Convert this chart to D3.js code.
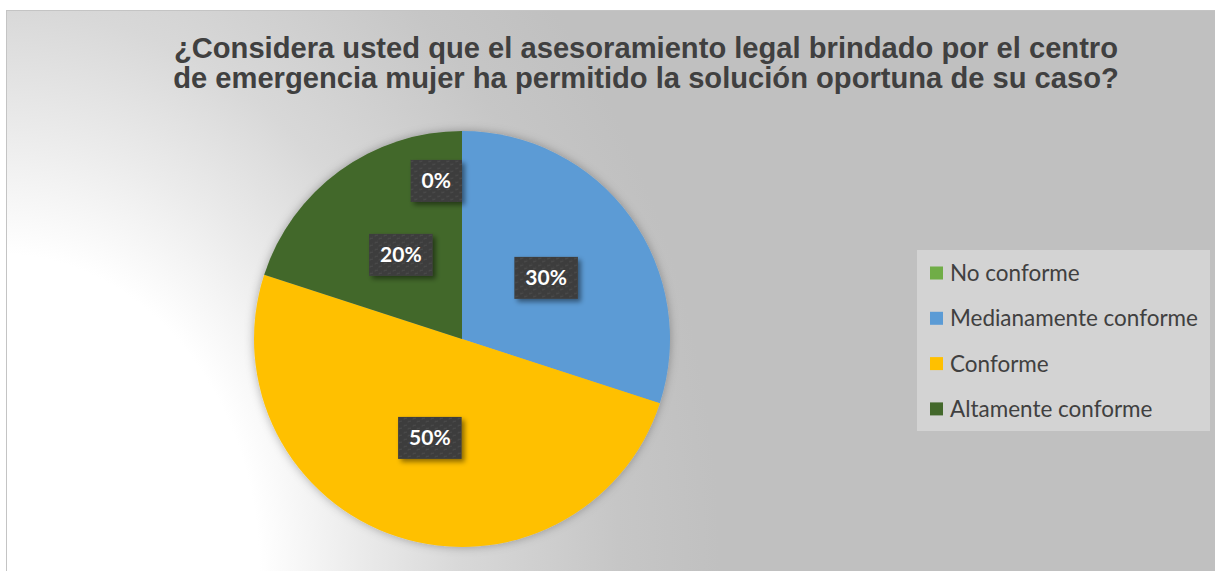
<!DOCTYPE html>
<html>
<head>
<meta charset="utf-8">
<script src="https://cdn.jsdelivr.net/npm/d3@7"></script>
<style>
  body { margin: 0; background: #fff; }
  svg { display: block; }
</style>
</head>
<body>
<script>
// chart data
const categories = ["No conforme", "Medianamente conforme", "Conforme", "Altamente conforme"];
const values = [0, 30, 50, 20];
const colors = ["#70AD47", "#5B9BD5", "#FFC000", "#43682B"];
const titleLines = [
  "¿Considera usted que el asesoramiento legal brindado por el centro",
  "de emergencia mujer ha permitido la solución oportuna de su caso?"
];

const width = 1215, height = 571;
const cx = 462, cy = 339, r = 208;

const svg = d3.select("body").append("svg")
    .attr("width", width)
    .attr("height", height);

const defs = svg.append("defs");

// background: white in the bottom-left corner, grey elsewhere
const bg = defs.append("radialGradient")
    .attr("id", "bg")
    .attr("gradientUnits", "userSpaceOnUse")
    .attr("cx", 0).attr("cy", 0).attr("r", 1)
    .attr("gradientTransform", "translate(0,571) scale(720,880)");
bg.append("stop").attr("offset", "0%").attr("stop-color", "#ffffff");
bg.append("stop").attr("offset", "36%").attr("stop-color", "#ffffff");
bg.append("stop").attr("offset", "50%").attr("stop-color", "#ebebeb");
bg.append("stop").attr("offset", "64%").attr("stop-color", "#d8d8d8");
bg.append("stop").attr("offset", "86%").attr("stop-color", "#c6c6c6");
bg.append("stop").attr("offset", "100%").attr("stop-color", "#c0c0c0");

// texture for the label boxes
const pat = defs.append("pattern")
    .attr("id", "tex")
    .attr("patternUnits", "userSpaceOnUse")
    .attr("width", 9).attr("height", 7);
pat.append("rect").attr("width", 9).attr("height", 7).attr("fill", "#3e3e3e");
pat.append("path").attr("d", "M1,2 L4,1 M5,5 L8,4")
    .attr("stroke", "#4c4c4c").attr("stroke-width", 1);

const shadow = defs.append("filter").attr("id", "shadow")
    .attr("x", "-20%").attr("y", "-20%").attr("width", "150%").attr("height", "160%");
shadow.append("feDropShadow")
    .attr("dx", 3).attr("dy", 3).attr("stdDeviation", 2.5)
    .attr("flood-color", "#000").attr("flood-opacity", 0.45);

const glow = defs.append("filter").attr("id", "glow")
    .attr("x", "-20%").attr("y", "-20%").attr("width", "140%").attr("height", "140%");
glow.append("feDropShadow")
    .attr("dx", 0).attr("dy", 0).attr("stdDeviation", 5)
    .attr("flood-color", "#000").attr("flood-opacity", 0.3);

svg.append("rect")
    .attr("x", 6.5).attr("y", 10.5)
    .attr("width", width).attr("height", height)
    .attr("fill", "url(#bg)")
    .attr("stroke", "#c4c4c4");

// title
const title = svg.append("text")
    .attr("text-anchor", "middle")
    .attr("font-family", "Liberation Sans, Arial, sans-serif")
    .attr("font-weight", "bold")
    .attr("font-size", 24)
    .attr("fill", "#404040");
title.selectAll("tspan")
  .data(titleLines)
  .join("tspan")
    .attr("x", 646)
    .attr("y", (d, i) => 58 + i * 30)
    .text(d => d);

// pie
const pie = d3.pie().sort(null).value(d => d)(values);
const arc = d3.arc().innerRadius(0).outerRadius(r);
const g = svg.append("g").attr("transform", `translate(${cx},${cy})`);

g.append("g")
    .attr("filter", "url(#glow)")
  .selectAll("path.slice")
  .data(pie)
  .join("path")
    .attr("class", "slice")
    .attr("d", arc)
    .attr("fill", (d, i) => colors[i]);

// data labels
const labelArc = d3.arc().innerRadius(r * 0.5).outerRadius(r * 0.5);
const zeroArc = d3.arc().innerRadius(r * 0.76).outerRadius(r * 0.76);
const fontLabel = "Lato, 'Open Sans', sans-serif";

const labels = g.selectAll("g.lab")
  .data(pie)
  .join("g")
    .attr("class", "lab");

labels.each(function(d) {
  const sel = d3.select(this);
  const txt = d3.format(".0%")(d.value / d3.sum(values));
  const t = sel.append("text")
      .attr("text-anchor", "middle")
      .attr("dy", "0.35em")
      .attr("font-family", fontLabel)
      .attr("font-weight", "bold")
      .attr("font-size", 21)
      .attr("fill", "#fff")
      .text(txt);
  const w = t.node().getComputedTextLength() + 22;
  const h = 42;
  let x, y;
  if (d.value === 0) {
    const p = zeroArc.centroid(d);
    x = p[0] - w / 2; y = p[1];
  } else {
    [x, y] = labelArc.centroid(d);
  }
  sel.attr("transform", `translate(${x},${y})`);
  sel.insert("rect", "text")
      .attr("x", -w / 2).attr("y", -h / 2)
      .attr("width", w).attr("height", h)
      .attr("fill", "url(#tex)")
      .attr("filter", "url(#shadow)");
});

// legend
const legend = svg.append("g");
legend.append("rect")
    .attr("x", 917).attr("y", 250)
    .attr("width", 293).attr("height", 181)
    .attr("fill", "#d3d3d3");

const items = legend.selectAll("g.item")
  .data(categories)
  .join("g")
    .attr("class", "item")
    .attr("transform", (d, i) => `translate(930,${273 + i * 45.3})`);

items.append("rect")
    .attr("x", 0).attr("y", -6.5)
    .attr("width", 13).attr("height", 13)
    .attr("fill", (d, i) => colors[i]);

items.append("text")
    .attr("x", 20)
    .attr("dy", "0.36em")
    .attr("font-family", fontLabel)
    .attr("font-size", 20)
    .attr("fill", "#404040")
    .text(d => d);

// fit the longest legend entry to the reference width
const longest = d3.max(items.selectAll("text").nodes(), n => n.getComputedTextLength());
items.selectAll("text").attr("font-size", 20 * 248 / longest);

// fit title lines to the reference width
const tw = d3.max(title.selectAll("tspan").nodes(), n => n.getComputedTextLength());
title.attr("font-size", 24 * 946 / tw);
</script>
</body>
</html>
